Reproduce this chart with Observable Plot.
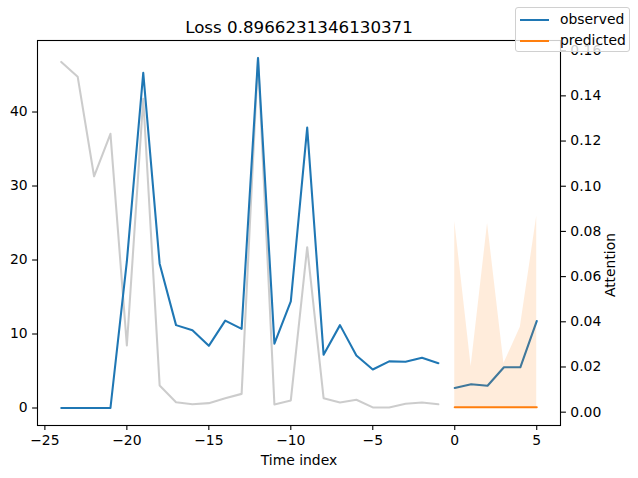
<!DOCTYPE html>
<html>
<head>
<meta charset="utf-8">
<script src="https://cdn.jsdelivr.net/npm/d3@7"></script>
<script src="https://cdn.jsdelivr.net/npm/@observablehq/plot@0.6"></script>
<style>
  body { margin: 0; background: #fff; }
  #chart { position: relative; width: 638px; height: 478px; font-family: "DejaVu Sans", sans-serif; }
  #chart svg { position: absolute; left: 0; top: 0; }
  #legend { position: absolute; left: 515px; top: 7px; width: 115px; height: 45px; box-sizing: border-box;
            border: 1px solid #d0d0d0; border-radius: 3px; background: rgba(255,255,255,0.8);
            font-family: "DejaVu Sans", sans-serif; font-size: 13.9px; color: #000; }
  .sw { position: absolute; left: 4px; width: 29px; height: 2px; }
  .lb { position: absolute; left: 44px; line-height: 14px; white-space: nowrap; }
</style>
</head>
<body>
<div id="chart"></div>
<script>
// ---- data ----
const encoderTime = [-24,-23,-22,-21,-20,-19,-18,-17,-16,-15,-14,-13,-12,-11,-10,-9,-8,-7,-6,-5,-4,-3,-2,-1];
const observedEncoder = [0,0,0,0,19.8,45.3,19.5,11.2,10.5,8.4,11.8,10.7,47.3,8.7,14.4,37.9,7.2,11.2,7.1,5.2,6.3,6.25,6.8,6.05];
const attention = [0.155,0.1485,0.1044,0.1232,0.0295,0.1387,0.0118,0.0044,0.0035,0.0040,0.0062,0.0081,0.1568,0.0034,0.0052,0.073,0.0062,0.0043,0.0055,0.0021,0.0021,0.0037,0.0043,0.0035];
const decoderTime = [0,1,2,3,4,5];
const observedDecoder = [2.7,3.2,3.0,5.5,5.5,11.75];
const predicted = [0.1,0.1,0.1,0.1,0.1,0.1];
const bandLower = [0,0,0.1,0,0,0.1];
const bandUpper = [25.2,5.6,24.95,6.0,10.9,25.9];
const xTicks = [-25,-20,-15,-10,-5,0,5];
const yTicks = [0,10,20,30,40];
const attTicks = [0,0.02,0.04,0.06,0.08,0.10,0.12,0.14,0.16];
const titleText = "Loss 0.8966231346130371";
const xLabel = "Time index";
const y2Label = "Attention";
const legendItems = [{label: "observed", color: "#1f77b4"}, {label: "predicted", color: "#ff7f0e"}];

const W = 638, H = 478;
const margins = {marginLeft: 37, marginRight: 78, marginTop: 40, marginBottom: 53};
const xDomain = [-25.45, 6.45];
const fontStyle = {fontFamily: "DejaVu Sans, sans-serif", fontSize: "13.9px", color: "black", background: "transparent", overflow: "visible"};

// attention (twin) axis — drawn underneath
const attPlot = Plot.plot({
  width: W, height: H, ...margins,
  style: fontStyle,
  x: {domain: xDomain, axis: null},
  y: {domain: [-0.0059, 0.1645], axis: null},
  marks: [
    Plot.line(encoderTime, {x: encoderTime, y: attention, stroke: "black", strokeOpacity: 0.2, strokeWidth: 2.08}),
    Plot.axisY({anchor: "right", ticks: attTicks, tickSize: 4.9, tickPadding: 4.9, tickFormat: d3.format(".2f"), label: null, fontSize: 13.9, strokeWidth: 1.1}),
    Plot.text([y2Label], {text: d => d, frameAnchor: "right", lineAnchor: "middle", dx: 50.5, rotate: -90, fontSize: 13.9, fill: "black"})
  ]
});

// main plot
const mainPlot = Plot.plot({
  width: W, height: H, ...margins,
  style: fontStyle,
  x: {domain: xDomain, axis: null},
  y: {domain: [-2.365, 49.665], axis: null},
  marks: [
    Plot.line(encoderTime, {x: encoderTime, y: observedEncoder, stroke: "#1f77b4", strokeWidth: 2.08}),
    Plot.line(decoderTime, {x: decoderTime, y: observedDecoder, stroke: "#1f77b4", strokeWidth: 2.08}),
    Plot.line(decoderTime, {x: decoderTime, y: predicted, stroke: "#ff7f0e", strokeWidth: 2.08}),
    Plot.areaY(decoderTime, {x: decoderTime, y1: bandLower, y2: bandUpper, fill: "#ff7f0e", fillOpacity: 0.15}),
    Plot.frame({stroke: "black", strokeWidth: 1.1}),
    Plot.axisX({anchor: "bottom", ticks: xTicks, tickSize: 4.9, tickPadding: 4.9, label: null, fontSize: 13.9, strokeWidth: 1.1}),
    Plot.axisY({anchor: "left", ticks: yTicks, tickSize: 4.9, tickPadding: 4.9, label: null, fontSize: 13.9, strokeWidth: 1.1}),
    Plot.text([titleText], {text: d => d, frameAnchor: "top", lineAnchor: "middle", dy: -13.3, fontSize: 16.7, fill: "black"}),
    Plot.text([xLabel], {text: d => d, frameAnchor: "bottom", lineAnchor: "middle", dy: 35.5, fontSize: 13.9, fill: "black"})
  ]
});

const chart = document.getElementById("chart");
chart.appendChild(attPlot);
chart.appendChild(mainPlot);

// legend
const legend = document.createElement("div");
legend.id = "legend";
legendItems.forEach((it, i) => {
  const sw = document.createElement("div");
  sw.className = "sw";
  sw.style.top = (11 + i * 21) + "px";
  sw.style.background = it.color;
  legend.appendChild(sw);
  const lb = document.createElement("div");
  lb.className = "lb";
  lb.style.top = (4 + i * 21) + "px";
  lb.textContent = it.label;
  legend.appendChild(lb);
});
chart.appendChild(legend);
</script>
</body>
</html>
